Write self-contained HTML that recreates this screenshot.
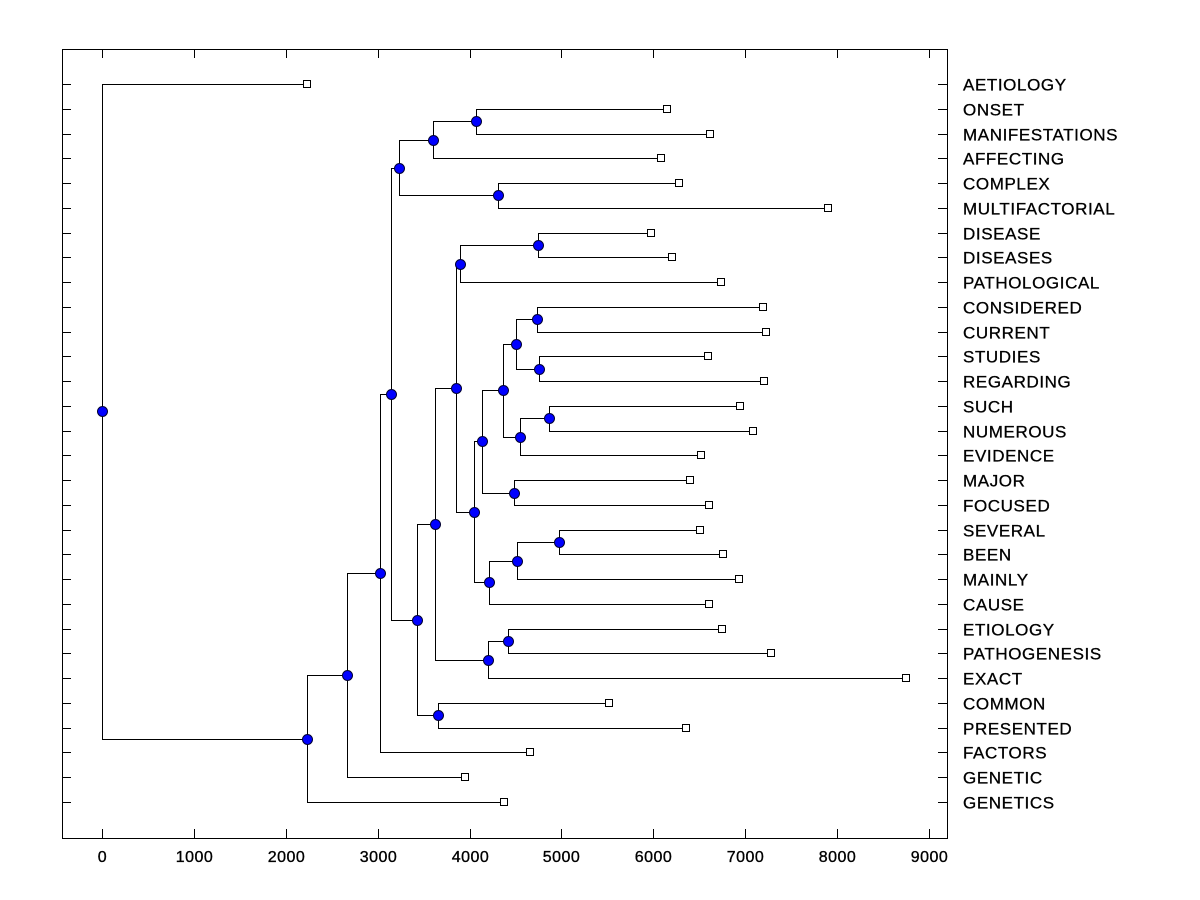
<!DOCTYPE html>
<html><head><meta charset="utf-8"><style>
body{margin:0;background:#fff}
svg{display:block;font-family:"Liberation Sans",Arial,sans-serif}
</style></head><body>
<svg id="chart" width="1200" height="900"></svg>
<script>
const leafNames=["AETIOLOGY","ONSET","MANIFESTATIONS","AFFECTING","COMPLEX","MULTIFACTORIAL","DISEASE","DISEASES","PATHOLOGICAL","CONSIDERED","CURRENT","STUDIES","REGARDING","SUCH","NUMEROUS","EVIDENCE","MAJOR","FOCUSED","SEVERAL","BEEN","MAINLY","CAUSE","ETIOLOGY","PATHOGENESIS","EXACT","COMMON","PRESENTED","FACTORS","GENETIC","GENETICS"];
const leafHeights=[2231,6148,6616,6083,6279,7900,5974,6202,6736,7193,7225,6594,7203,6942,7084,6518,6398,6605,6507,6757,6931,6605,6746,7280,8749,5517,6355,4657,3950,4374];
// merges: [childA, childB]; leaves are 0..29, merged nodes are "n"+index
const mergeChildren=[
 [1,2],[4,5],[6,7],[9,10],[11,12],[13,14],[16,17],[18,19],[22,23],[25,26],
 ["n0",3],["n10","n1"],["n2",8],["n3","n4"],["n5",15],["n13","n14"],["n15","n6"],["n7",20],["n17",21],["n16","n18"],
 ["n12","n19"],["n8",24],["n20","n21"],["n22","n9"],["n11","n23"],["n24",27],["n25",28],["n26",29],["n27",0]
];
const mergeHeights=[4070,4309,4744,4733,4755,4864,4483,4973,4418,3656,
 3602,3232,3896,4505,4548,4363,4135,4516,4211,4048,
 3852,4200,3623,3428,3145,3025,2666,2231,0];
const xTicks=[0,1000,2000,3000,4000,5000,6000,7000,8000,9000];

const svg=document.getElementById('chart');
const NS='http://www.w3.org/2000/svg';
const L=62,R=947,T=49,B=838;
const X=v=>102+v*(827/9000);
const Y=i=>84+i*(718/29);
function mk(tag,attrs,parent){const e=document.createElementNS(NS,tag);for(const k in attrs)e.setAttribute(k,attrs[k]);(parent||svg).appendChild(e);return e;}

const frame=mk('rect',{x:L+.5,y:T+.5,width:R-L,height:B-T,fill:'none',stroke:'#000','stroke-width':1});



const xa=mk('g',{});


xTicks.forEach(t=>{
 const x=Math.round(X(t))+.5;
 mk('line',{x1:x,x2:x,y1:B,y2:B-9,stroke:'#000'},xa);
 mk('line',{x1:x,x2:x,y1:T,y2:T+9,stroke:'#000'},xa);
 const tx=mk('text',{x:x,y:B+24,'text-anchor':'middle','font-size':16,fill:'#000',stroke:'#000','stroke-width':0.35,'letter-spacing':0.5},xa);
 tx.textContent=t;
 
 
});

const pos={};
leafNames.forEach((n,i)=>{pos[i]={x:X(leafHeights[i]),y:Y(i)};});
mergeChildren.forEach((c,i)=>{
 const a=pos[c[0]],b=pos[c[1]];
 pos['n'+i]={x:X(mergeHeights[i]),y:(a.y+b.y)/2};
});

const links=mk('g',{fill:'none',stroke:'#000','stroke-width':1});


mergeChildren.forEach((c,i)=>{
 const p=pos['n'+i],a=pos[c[0]],b=pos[c[1]];
 const px=Math.round(p.x)+.5;
 mk('path',{d:`M${Math.round(a.x)} ${Math.round(a.y)+.5}H${px}V${Math.round(b.y)+.5}H${Math.round(b.x)}`},links);
});

leafNames.forEach((n,i)=>{
 const y=Math.round(Y(i))+.5;
 mk('line',{x1:L,x2:L+9,y1:y,y2:y,stroke:'#000'});
 mk('line',{x1:R-9,x2:R,y1:y,y2:y,stroke:'#000'});
 const sq=mk('rect',{x:Math.round(X(leafHeights[i]))-3.5,y:y-4,width:7,height:7,fill:'#fff',stroke:'#000'});
 
 
 const tx=mk('text',{x:963,y:y+6,'font-size':17,fill:'#000',stroke:'#000','stroke-width':0.3,'letter-spacing':0.6});
 tx.textContent=n;
 
 
});

mergeChildren.forEach((c,i)=>{
 const p=pos['n'+i];
 const ci=mk('circle',{cx:Math.round(p.x)+.5,cy:Math.round(p.y)+.5,r:5,fill:'#0000ff',stroke:'#000033','stroke-width':1});
 
 
});
</script>
</body></html>
